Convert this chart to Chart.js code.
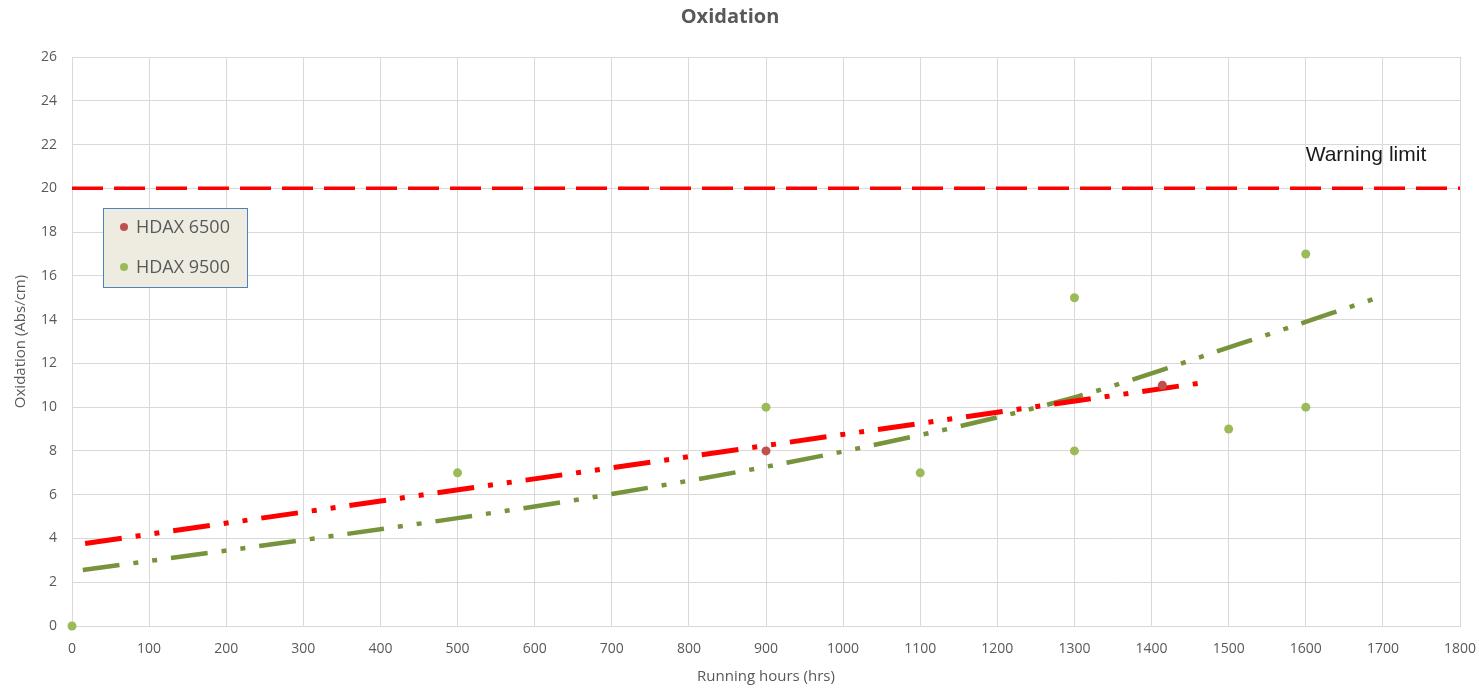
<!DOCTYPE html>
<html>
<head>
<meta charset="utf-8">
<script src="https://cdn.jsdelivr.net/npm/chart.js@4"></script>
<style>
  body { margin: 0; background: #fff; }
  #wrap { width: 1479px; height: 688px; position: relative; }
</style>
</head>
<body>
<div id="wrap"><canvas id="myChart"></canvas></div>
<script>
// values
let hdax6500Hours = [900, 1414];
let hdax6500Ox = [8, 11];

let hdax9500Hours = [0, 500, 900, 1100, 1300, 1300, 1500, 1600, 1600];
let hdax9500Ox = [0, 7, 10, 7, 15, 8, 9, 17, 10];

// trend lines (as drawn in the original)
let trend6500Hours = [17, 1463];
let trend6500Ox = [3.77, 11.1];
let trend9500Hours = [14, 300, 500, 700, 1009, 1300, 1515, 1693];
let trend9500Ox = [2.56, 3.93, 4.93, 6.03, 8.04, 10.45, 12.9, 15.0];

let warningLimit = 20;
let xMin = 0, xMax = 1800, xStep = 100;
let yMin = 0, yMax = 26, yStep = 2;

const pts = (xs, ys) => xs.map((x, i) => ({ x: x, y: ys[i] }));

const gray = "#595959";
const gridCol = "#d9d9d9";
const fontFam = "'Open Sans', sans-serif";

// legend box inside the plot, like the Excel one
const boxLegend = {
  id: "boxLegend",
  afterDraw(chart) {
    const ctx = chart.ctx;
    const a = chart.chartArea;
    const x = a.left + 31, y = a.top + 151, w = 144, h = 79;
    ctx.save();
    ctx.fillStyle = "#eeece1";
    ctx.fillRect(x, y, w, h);
    ctx.strokeStyle = "#4f81bd";
    ctx.lineWidth = 1;
    ctx.strokeRect(x + 0.5, y + 0.5, w, h);
    const items = chart.data.datasets.filter(d => d.inLegend);
    items.forEach((d, i) => {
      const cy = y + 19 + i * 40;
      ctx.beginPath();
      ctx.fillStyle = d.backgroundColor;
      ctx.arc(x + 21, cy, 4, 0, Math.PI * 2);
      ctx.fill();
      ctx.fillStyle = gray;
      ctx.font = "18px " + fontFam;
      ctx.textBaseline = "middle";
      ctx.fillText(d.label, x + 33, cy + 1);
    });
    ctx.restore();
  }
};

const warnLabel = {
  id: "warnLabel",
  afterDatasetsDraw(chart) {
    const ctx = chart.ctx;
    const xs = chart.scales.x, ys = chart.scales.y;
    ctx.save();
    ctx.fillStyle = "#1a1a1a";
    ctx.font = "21px 'Liberation Sans', Arial, sans-serif";
    ctx.textAlign = "center";
    ctx.textBaseline = "middle";
    ctx.fillText("Warning limit", xs.getPixelForValue(1678), ys.getPixelForValue(21.5));
    ctx.restore();
  }
};

new Chart("myChart", {
  type: "scatter",
  data: {
    datasets: [
      {
        label: "HDAX 6500",
        inLegend: true,
        data: pts(hdax6500Hours, hdax6500Ox),
        backgroundColor: "#c0504d",
        borderColor: "#c0504d",
        pointRadius: 4.5,
        pointBorderWidth: 0,
        clip: false,
      },
      {
        label: "HDAX 9500",
        inLegend: true,
        data: pts(hdax9500Hours, hdax9500Ox),
        backgroundColor: "#9bbb59",
        borderColor: "#9bbb59",
        pointRadius: 4.5,
        pointBorderWidth: 0,
        clip: false,
      },
      {
        label: "Trend 6500",
        data: pts(trend6500Hours, trend6500Ox),
        showLine: true,
        pointRadius: 0,
        borderColor: "#ff0000",
        borderWidth: 5,
        borderDash: [37, 14, 5, 14, 5, 14],
        borderCapStyle: "butt",
      },
      {
        label: "Trend 9500",
        data: pts(trend9500Hours, trend9500Ox),
        showLine: true,
        cubicInterpolationMode: "monotone",
        pointRadius: 0,
        borderColor: "#77933c",
        borderWidth: 4.5,
        borderDash: [37, 14, 5, 14, 5, 14],
        borderCapStyle: "butt",
      },
      {
        label: "Warning limit",
        data: pts([xMin, xMax], [warningLimit, warningLimit]),
        showLine: true,
        pointRadius: 0,
        borderColor: "#ff0000",
        borderWidth: 3.5,
        borderDash: [31, 11],
        borderCapStyle: "butt",
      },
    ],
  },
  options: {
    responsive: true,
    maintainAspectRatio: false,
    animation: false,
    layout: { autoPadding: false, padding: { left: 0, right: 19, top: 0, bottom: 0 } },
    plugins: {
      legend: { display: false },
      tooltip: { enabled: false },
      title: {
        display: true,
        text: "Oxidation",
        color: gray,
        font: { family: fontFam, size: 20, weight: "bold" },
        padding: { top: 5, bottom: 28 },
      },
    },
    scales: {
      x: {
        type: "linear",
        min: xMin,
        max: xMax,
        ticks: {
          stepSize: xStep, color: gray, padding: 15,
          font: { family: fontFam, size: 14 },
          callback: (v) => String(v),
        },
        grid: { color: gridCol, drawTicks: false },
        border: { color: gridCol },
        title: {
          display: true,
          text: "Running hours (hrs)",
          color: gray,
          font: { family: fontFam, size: 15 },
          padding: { top: 0, bottom: 2 },
        },
        afterFit(scale) {
          scale.height = 62;
          scale.paddingLeft = 0;
          scale.paddingRight = 0;
        },
      },
      y: {
        min: yMin,
        max: yMax,
        ticks: {
          stepSize: yStep, color: gray, padding: 15,
          font: { family: fontFam, size: 14 },
          callback: (v) => String(v),
        },
        grid: { color: gridCol, drawTicks: false },
        border: { color: gridCol },
        title: {
          display: true,
          text: "Oxidation (Abs/cm)",
          color: gray,
          font: { family: fontFam, size: 15 },
          padding: { top: 12, bottom: 0 },
        },
        afterFit(scale) {
          scale.width = 72;
          scale.paddingTop = 0;
          scale.paddingBottom = 0;
        },
      },
    },
  },
  plugins: [boxLegend, warnLabel],
});
</script>
</body>
</html>
